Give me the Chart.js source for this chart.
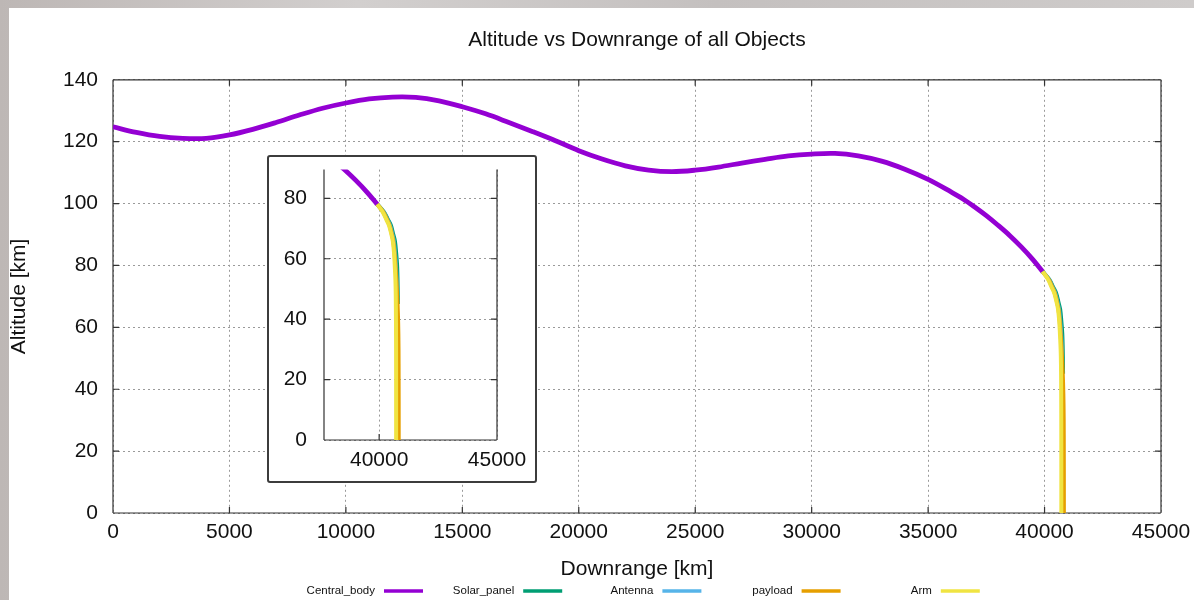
<!DOCTYPE html>
<html>
<head>
<meta charset="utf-8">
<script src="https://cdn.jsdelivr.net/npm/chart.js@4.4.1/dist/chart.umd.min.js"></script>
<style>
  html, body { margin: 0; padding: 0; }
  body { width: 1194px; height: 600px; position: relative; overflow: hidden;
         background: linear-gradient(90deg, #bdb7b5, #d2cfce 30%, #c4c0bf 60%, #cfcccb); }
  #panel { position: absolute; left: 9px; top: 8px; width: 1185px; height: 592px; background: #ffffff; }
  #main { position: absolute; left: 0; top: 0; }
  #insetBox { position: absolute; left: 267px; top: 155px; width: 270px; height: 328px;
              box-sizing: border-box; border: 2px solid #3c3c3c; border-radius: 3px; background: #ffffff; }
  #inset { position: absolute; left: 250px; top: 140px; }
</style>
</head>
<body>
<div id="panel"></div>
<canvas id="main" width="1194" height="600"></canvas>
<div id="insetBox"></div>
<canvas id="inset" width="300" height="350"></canvas>
<script>
// ---------------- DATA ----------------
const seriesNames = ['Central_body', 'Solar_panel', 'Antenna', 'payload', 'Arm'];
const seriesColors = ['#9400d3', '#009e73', '#56b4e9', '#e69f00', '#f0e442'];

const centralX = [0,1000,2000,3000,4000,5000,6000,7000,8000,9000,10000,11000,12000,13000,14000,15000,16000,17000,18000,19000,20000,21000,22000,23000,24000,25000,26000,27000,28000,29000,30000,31000,32000,33000,34000,35000,36000,36500,37000,37500,38000,38500,39000,39500,39920];
const centralY = [124.8,123.0,121.7,121.1,121.1,122.2,124.0,126.2,128.6,130.8,132.5,133.8,134.4,134.3,133.2,131.3,129.0,126.2,123.3,120.3,117.1,114.4,112.2,110.8,110.3,110.8,111.8,113.1,114.3,115.4,116.0,116.2,115.4,113.7,111.1,107.8,103.7,101.5,98.9,96.1,93.0,89.7,86.0,81.9,78.0];

const solarX = [39920,40200,40370,40500,40600,40670,40720,40760,40780,40790,40795];
const solarY = [78,75.5,73,71,68,65.8,62,58,53,48,45];

const antennaX = [39920,40180,40340,40460,40560,40620,40670,40710,40740,40750];
const antennaY = [78,75.5,73,71,68,65.8,62,58,53,49];

const payloadX = [39920,40170,40330,40440,40540,40600,40650,40690,40730,40765,40795,40815,40825,40830];
const payloadY = [78,75.5,73,71,68,65.8,62,58,53,48,42,35,25,0];

const armX = [39920,40150,40300,40420,40520,40580,40630,40660,40690,40705,40713,40718,40720,40721];
const armY = [78,75.5,73,71,68,65.8,62,58,53,48,40,30,15,0];

const mainXTicks = [0,5000,10000,15000,20000,25000,30000,35000,40000,45000];
const mainYTicks = [0,20,40,60,80,100,120,140];
const insetXTicks = [40000,45000];
const insetYTicks = [0,20,40,60,80];

// ---------------- HELPERS ----------------
const FONT = 'Liberation Sans, Arial, sans-serif';
const seriesX = [centralX, solarX, antennaX, payloadX, armX];
const seriesY = [centralY, solarY, antennaY, payloadY, armY];
const widths = [4.8, 4, 4, 4, 4];

function makeDatasets() {
  return seriesNames.map((name, i) => ({
    label: name,
    data: seriesX[i].map((x, k) => ({ x: x, y: seriesY[i][k] })),
    borderColor: seriesColors[i],
    backgroundColor: seriesColors[i],
    borderWidth: widths[i],
    showLine: true,
    pointRadius: 0,
    tension: 0.35,
    order: seriesNames.length - i
  }));
}

function setTicks(list) {
  return function(scale) { scale.ticks = list.map(v => ({ value: v })); };
}
const plainNum = v => String(v);

// frame + inward ticks plugin
const framePlugin = {
  id: 'frame',
  beforeDatasetsDraw(chart, args, opts) {
    const { ctx, chartArea: a, scales } = chart;
    const L = opts.tickLen || 6;
    ctx.save();
    ctx.strokeStyle = '#333333';
    ctx.lineWidth = 1.2;
    ctx.beginPath();
    if (opts.top) { ctx.moveTo(a.left, a.top); ctx.lineTo(a.right, a.top); }
    ctx.moveTo(a.left, a.top); ctx.lineTo(a.left, a.bottom);
    ctx.moveTo(a.right, a.top); ctx.lineTo(a.right, a.bottom);
    ctx.moveTo(a.left, a.bottom); ctx.lineTo(a.right, a.bottom);
    scales.x.ticks.forEach(t => {
      const px = scales.x.getPixelForValue(t.value);
      ctx.moveTo(px, a.bottom); ctx.lineTo(px, a.bottom - L);
      if (opts.top) { ctx.moveTo(px, a.top); ctx.lineTo(px, a.top + L); }
    });
    scales.y.ticks.forEach(t => {
      const py = scales.y.getPixelForValue(t.value);
      ctx.moveTo(a.left, py); ctx.lineTo(a.left + L, py);
      ctx.moveTo(a.right, py); ctx.lineTo(a.right - L, py);
    });
    ctx.stroke();
    ctx.restore();
  }
};

// gnuplot-style legend: text right-justified, sample line after it
const keyPlugin = {
  id: 'gkey',
  afterDraw(chart, args, opts) {
    if (!opts.display) return;
    const ctx = chart.ctx;
    ctx.save();
    ctx.font = '11.5px ' + FONT;
    ctx.textAlign = 'right';
    ctx.textBaseline = 'middle';
    chart.data.datasets.forEach((ds, i) => {
      const base = opts.x0 + i * opts.step;
      ctx.fillStyle = '#111111';
      ctx.fillText(ds.label, base, opts.y);
      ctx.strokeStyle = ds.borderColor;
      ctx.lineWidth = 3.5;
      ctx.beginPath();
      ctx.moveTo(base + 9, opts.y);
      ctx.lineTo(base + 48, opts.y);
      ctx.stroke();
    });
    ctx.restore();
  }
};

const gridStyle = { color: '#9a9a9a', lineWidth: 1, drawTicks: false };
const borderDashed = { display: false, dash: [2, 3] };

// ---------------- MAIN CHART ----------------
new Chart(document.getElementById('main'), {
  type: 'scatter',
  data: { datasets: makeDatasets() },
  plugins: [framePlugin, keyPlugin],
  options: {
    responsive: false,
    animation: false,
    layout: { padding: { left: 0, right: 33, top: 0, bottom: 0 } },
    plugins: {
      legend: { display: false },
      tooltip: { enabled: false },
      title: {
        display: true,
        fullSize: false,
        text: 'Altitude vs Downrange of all Objects',
        color: '#111111',
        font: { family: FONT, size: 21, weight: 'normal' },
        padding: { top: 28, bottom: 26.6 }
      },
      frame: { top: true, tickLen: 6 },
      gkey: { display: true, x0: 375, step: 139.2, y: 591 }
    },
    scales: {
      x: {
        type: 'linear',
        min: 0, max: 45000,
        afterBuildTicks: setTicks(mainXTicks),
        afterFit(s) { s.height = 87; s.paddingRight = 0; s.paddingLeft = 0; },
        grid: Object.assign({}, gridStyle),
        border: Object.assign({}, borderDashed),
        ticks: { color: '#111111', font: { family: FONT, size: 21 }, padding: 7, maxRotation: 0, autoSkip: false, callback: plainNum },
        title: { display: true, text: 'Downrange [km]', color: '#111111',
                 font: { family: FONT, size: 21 }, padding: { top: 0, bottom: 18 } }
      },
      y: {
        type: 'linear',
        min: 0, max: 140,
        afterBuildTicks: setTicks(mainYTicks),
        afterFit(s) { s.width = 113; },
        grid: Object.assign({}, gridStyle),
        border: Object.assign({}, borderDashed),
        ticks: { color: '#111111', font: { family: FONT, size: 21 }, padding: 15, callback: plainNum },
        title: { display: true, text: 'Altitude [km]', color: '#111111',
                 font: { family: FONT, size: 21 }, padding: { top: 7, bottom: 0 } }
      }
    }
  }
});

// ---------------- INSET CHART ----------------
new Chart(document.getElementById('inset'), {
  type: 'scatter',
  data: { datasets: makeDatasets() },
  plugins: [framePlugin],
  options: {
    responsive: false,
    animation: false,
    layout: { padding: { left: 0, right: 53, top: 25, bottom: 0 } },
    plugins: {
      legend: { display: false },
      tooltip: { enabled: false },
      title: { display: false },
      frame: { top: false, tickLen: 6 }
    },
    scales: {
      x: {
        type: 'linear',
        min: 37660, max: 45000,
        afterBuildTicks: setTicks(insetXTicks),
        afterFit(s) { s.height = 50; },
        grid: Object.assign({}, gridStyle),
        border: Object.assign({}, borderDashed),
        ticks: { color: '#111111', font: { family: FONT, size: 21 }, padding: 8, maxRotation: 0, autoSkip: false, callback: plainNum }
      },
      y: {
        type: 'linear',
        min: 0, max: 89.5,
        afterBuildTicks: setTicks(insetYTicks),
        afterFit(s) { s.width = 74; },
        grid: Object.assign({}, gridStyle),
        border: Object.assign({}, borderDashed),
        ticks: { color: '#111111', font: { family: FONT, size: 21 }, padding: 17, callback: plainNum }
      }
    }
  }
});
</script>
</body>
</html>
